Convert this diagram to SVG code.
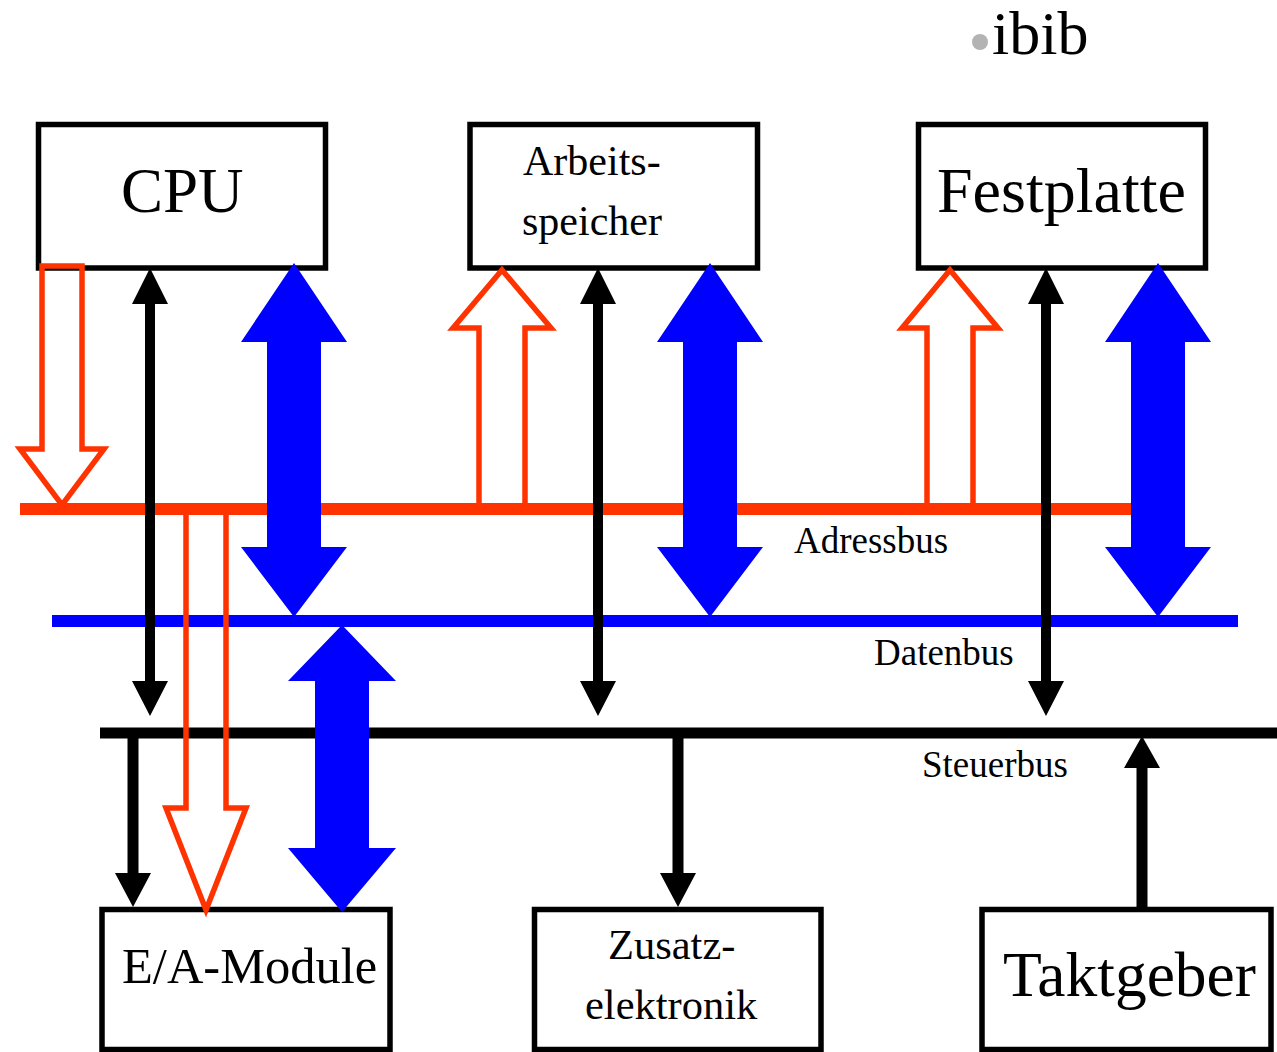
<svg xmlns="http://www.w3.org/2000/svg" width="1277" height="1052" viewBox="0 0 1277 1052">
<style>
.box{fill:#fff;stroke:#000;stroke-width:5.5}
.t{font-family:"Liberation Serif","Times New Roman",serif;fill:#000}
.red{fill:none;stroke:#FF3300;stroke-width:5.5;stroke-linejoin:miter}
.blue{fill:#0000FF}
.blk{fill:#000}
</style>
<rect width="1277" height="1052" fill="#fff"/>
<g id="logo">
<circle cx="980" cy="42" r="8" fill="#b3b3b3"/>
<text class="t" x="992" y="54" font-size="62">ibib</text>
</g>
<g id="cpu">
<rect class="box" x="38.5" y="124.5" width="287" height="143.5"/>
<text class="t" x="121" y="212" font-size="63">CPU</text>
</g>
<g id="arbeitsspeicher">
<rect class="box" x="470" y="124.5" width="287.5" height="143.5"/>
<text class="t" x="523" y="175" font-size="42">Arbeits-</text>
<text class="t" x="522" y="235" font-size="42">speicher</text>
</g>
<g id="festplatte">
<rect class="box" x="918.5" y="124.5" width="287" height="143.5"/>
<text class="t" x="937" y="212" font-size="64">Festplatte</text>
</g>
<g id="ea-module">
<rect class="box" x="102" y="909.5" width="288" height="140"/>
<text class="t" x="122" y="983" font-size="50.5">E/A-Module</text>
</g>
<g id="zusatzelektronik">
<rect class="box" x="534.5" y="909.5" width="286.5" height="140"/>
<text class="t" x="608" y="959" font-size="42.5">Zusatz-</text>
<text class="t" x="585" y="1019" font-size="42.5">elektronik</text>
</g>
<g id="taktgeber">
<rect class="box" x="982" y="909.5" width="289" height="140"/>
<text class="t" x="1003" y="996" font-size="63.5">Taktgeber</text>
</g>
<g id="buses">
<rect x="20" y="503" width="1120" height="12" fill="#FF3300"/>
<rect x="52" y="615" width="1186" height="12" fill="#0000FF"/>
<rect x="100" y="727.5" width="1177" height="11" fill="#000"/>
<text class="t" x="794" y="553" font-size="37">Adressbus</text>
<text class="t" x="874" y="665" font-size="37">Datenbus</text>
<text class="t" x="922" y="777" font-size="37">Steuerbus</text>
</g>
<g id="connectors">
<polygon class="blk" points="150,268 168,304 155,304 155,681 168,681 150,716 132,681 145,681 145,304 132,304"/>
<polygon class="blk" points="598,268 616,304 603,304 603,681 616,681 598,716 580,681 593,681 593,304 580,304"/>
<polygon class="blk" points="1046,268 1064,304 1051,304 1051,681 1064,681 1046,716 1028,681 1041,681 1041,304 1028,304"/>
<polygon class="blk" points="127.5,733 138.5,733 138.5,873 151,873 133,907 115,873 127.5,873"/>
<polygon class="blk" points="672.5,733 683.5,733 683.5,873 696,873 678,907 660,873 672.5,873"/>
<polygon class="blk" points="1136.5,909 1147.5,909 1147.5,768 1160,768 1142,736 1124,768 1136.5,768"/>
<path class="red" d="M42,266 L42,449 L20,449 L62,505 L104,449 L82,449 L82,266 Z"/>
<path class="red" d="M479,509 L479,328 L453,328 L502,270 L551,328 L525,328 L525,509"/>
<path class="red" d="M927,509 L927,328 L902,328 L950,270 L998,328 L973,328 L973,509"/>
<path class="red" d="M186,512 L186,808 L166,808 L206,910 L246,808 L226,808 L226,512"/>
<polygon class="blue" points="294,263 347,342 321,342 321,547 347,547 294,617 241,547 267,547 267,342 241,342"/>
<polygon class="blue" points="710,263 763,342 737,342 737,547 763,547 710,617 657,547 683,547 683,342 657,342"/>
<polygon class="blue" points="1158,263 1211,342 1185,342 1185,547 1211,547 1158,617 1105,547 1131,547 1131,342 1105,342"/>
<polygon class="blue" points="342,625 396,681 369,681 369,848 396,848 342,912 288,848 315,848 315,681 288,681"/>
</g>
</svg>
